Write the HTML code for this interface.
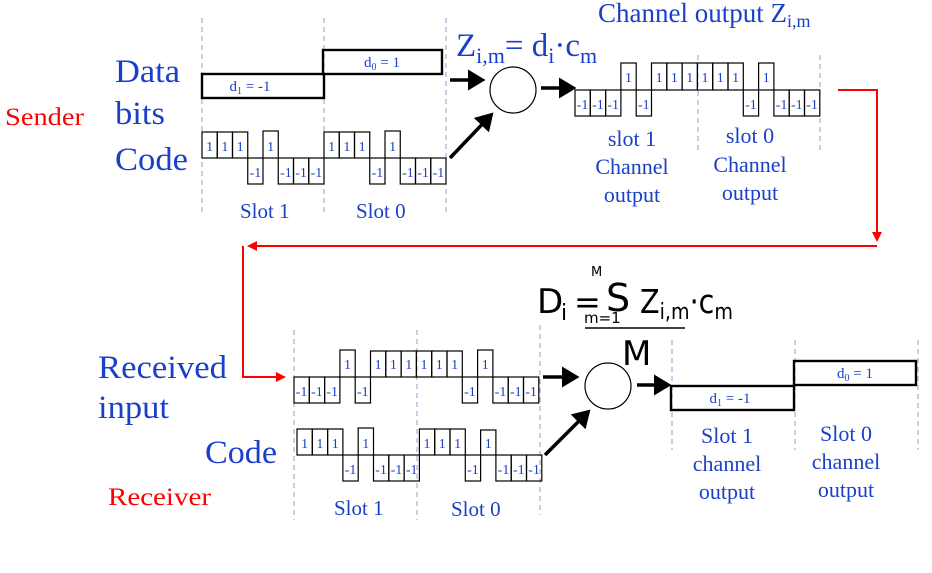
<!DOCTYPE html>
<html><head><meta charset="utf-8"><style>
html,body{margin:0;padding:0;background:#fff}
svg{display:block}
.b{fill:#1a3fc8;font-family:"Liberation Serif",serif}
.c{font-size:14px;text-anchor:middle;fill:#1a3fc8;font-family:"Liberation Serif",serif}
.dl{font-size:15px}
.r{fill:none;stroke:#000;stroke-width:1.2}
.r2{fill:none;stroke:#000;stroke-width:2.4}
.d{stroke:#9a9ac8;stroke-width:1;stroke-dasharray:5,4}
.s{fill:#000;font-family:"DejaVu Sans",sans-serif}
</style></head><body>
<svg width="932" height="573" viewBox="0 0 932 573">
<defs>
<marker id="ak" markerWidth="6" markerHeight="6" refX="4" refY="3" orient="auto" markerUnits="strokeWidth"><path d="M0,0 L5,3 L0,6 z" fill="#000"/></marker>
<marker id="ar" markerWidth="5" markerHeight="5" refX="4" refY="2.5" orient="auto" markerUnits="strokeWidth"><path d="M0,0 L5,2.5 L0,5 z" fill="red"/></marker>
</defs>
<line class="d" x1="202" y1="18" x2="202" y2="215"/><line class="d" x1="324" y1="18" x2="324" y2="215"/><line class="d" x1="446" y1="18" x2="446" y2="215"/>
<line class="d" x1="698" y1="55" x2="698" y2="150"/><line class="d" x1="820" y1="55" x2="820" y2="150"/>
<line class="d" x1="294" y1="330" x2="294" y2="520"/><line class="d" x1="417" y1="330" x2="417" y2="520"/><line class="d" x1="540" y1="325" x2="540" y2="515"/>
<line class="d" x1="672" y1="340" x2="672" y2="450"/><line class="d" x1="795" y1="340" x2="795" y2="450"/><line class="d" x1="918" y1="340" x2="918" y2="450"/>

<text x="5" y="125" textLength="79" lengthAdjust="spacingAndGlyphs" style="font-size:25px;fill:red;font-family:'Liberation Serif',serif">Sender</text>
<text class="b" x="115" y="82" font-size="33" textLength="65" lengthAdjust="spacingAndGlyphs">Data</text>
<text class="b" x="115" y="124" font-size="33" textLength="50" lengthAdjust="spacingAndGlyphs">bits</text>
<text class="b" x="115" y="170" font-size="33" textLength="73" lengthAdjust="spacingAndGlyphs">Code</text>

<rect class="r2" x="202" y="74" width="122" height="24"/>
<text class="c dl" x="250" y="91">d<tspan font-size="10" dy="3">1</tspan><tspan dy="-3"> = -1</tspan></text>
<rect class="r2" x="323" y="50" width="119" height="24"/>
<text class="c dl" x="382" y="67">d<tspan font-size="10" dy="3">0</tspan><tspan dy="-3"> = 1</tspan></text>

<g>
<rect class="r" x="202" y="132" width="15.25" height="26"/><text class="c" x="209.6" y="151">1</text>
<rect class="r" x="217.25" y="132" width="15.25" height="26"/><text class="c" x="224.9" y="151">1</text>
<rect class="r" x="232.5" y="132" width="15.25" height="26"/><text class="c" x="240.1" y="151">1</text>
<rect class="r" x="247.75" y="158" width="15.25" height="26"/><text class="c" x="255.4" y="177">-1</text>
<rect class="r" x="263" y="131" width="15.25" height="27"/><text class="c" x="270.6" y="151">1</text>
<rect class="r" x="278.25" y="158" width="15.25" height="26"/><text class="c" x="285.9" y="177">-1</text>
<rect class="r" x="293.5" y="158" width="15.25" height="26"/><text class="c" x="301.1" y="177">-1</text>
<rect class="r" x="308.75" y="158" width="15.25" height="26"/><text class="c" x="316.4" y="177">-1</text>
<rect class="r" x="324" y="132" width="15.25" height="26"/><text class="c" x="331.6" y="151">1</text>
<rect class="r" x="339.25" y="132" width="15.25" height="26"/><text class="c" x="346.9" y="151">1</text>
<rect class="r" x="354.5" y="132" width="15.25" height="26"/><text class="c" x="362.1" y="151">1</text>
<rect class="r" x="369.75" y="158" width="15.25" height="26"/><text class="c" x="377.4" y="177">-1</text>
<rect class="r" x="385" y="131" width="15.25" height="27"/><text class="c" x="392.6" y="151">1</text>
<rect class="r" x="400.25" y="158" width="15.25" height="26"/><text class="c" x="407.9" y="177">-1</text>
<rect class="r" x="415.5" y="158" width="15.25" height="26"/><text class="c" x="423.1" y="177">-1</text>
<rect class="r" x="430.75" y="158" width="15.25" height="26"/><text class="c" x="438.4" y="177">-1</text>
</g>
<text class="b" x="240" y="218" font-size="21">Slot 1</text>
<text class="b" x="356" y="218" font-size="21">Slot 0</text>

<text class="b" x="456" y="56" font-size="33">Z<tspan font-size="22" dy="7">i,m</tspan><tspan dy="-7">= d</tspan><tspan font-size="22" dy="7">i</tspan><tspan dy="-7">·c</tspan><tspan font-size="22" dy="7">m</tspan></text>
<circle cx="513" cy="90" r="23" fill="none" stroke="#000" stroke-width="1.2"/>
<line x1="450" y1="80" x2="482" y2="80" stroke="#000" stroke-width="3.5" marker-end="url(#ak)"/>
<line x1="450" y1="158" x2="491" y2="115" stroke="#000" stroke-width="3.5" marker-end="url(#ak)"/>
<line x1="541" y1="88" x2="573" y2="88" stroke="#000" stroke-width="3.5" marker-end="url(#ak)"/>

<text class="b" x="598" y="22" font-size="27">Channel output Z<tspan font-size="18" dy="5">i,m</tspan></text>
<g>
<rect class="r" x="575" y="90" width="15.3" height="26"/><text class="c" x="582.6" y="109">-1</text>
<rect class="r" x="590.3" y="90" width="15.3" height="26"/><text class="c" x="597.9" y="109">-1</text>
<rect class="r" x="605.6" y="90" width="15.3" height="26"/><text class="c" x="613.2" y="109">-1</text>
<rect class="r" x="620.9" y="63" width="15.3" height="27"/><text class="c" x="628.5" y="82">1</text>
<rect class="r" x="636.2" y="90" width="15.3" height="26"/><text class="c" x="643.8" y="109">-1</text>
<rect class="r" x="651.5" y="63" width="15.3" height="27"/><text class="c" x="659.1" y="82">1</text>
<rect class="r" x="666.8" y="63" width="15.3" height="27"/><text class="c" x="674.4" y="82">1</text>
<rect class="r" x="682.1" y="63" width="15.3" height="27"/><text class="c" x="689.7" y="82">1</text>
<rect class="r" x="697.4" y="63" width="15.3" height="27"/><text class="c" x="705" y="82">1</text>
<rect class="r" x="712.7" y="63" width="15.3" height="27"/><text class="c" x="720.3" y="82">1</text>
<rect class="r" x="728" y="63" width="15.3" height="27"/><text class="c" x="735.6" y="82">1</text>
<rect class="r" x="743.3" y="90" width="15.3" height="26"/><text class="c" x="750.9" y="109">-1</text>
<rect class="r" x="758.6" y="63" width="15.3" height="27"/><text class="c" x="766.2" y="82">1</text>
<rect class="r" x="773.9" y="90" width="15.3" height="26"/><text class="c" x="781.5" y="109">-1</text>
<rect class="r" x="789.2" y="90" width="15.3" height="26"/><text class="c" x="796.8" y="109">-1</text>
<rect class="r" x="804.5" y="90" width="15.3" height="26"/><text class="c" x="812.1" y="109">-1</text>
</g>
<g class="b" font-size="22" text-anchor="middle">
<text x="632" y="146">slot 1</text><text x="632" y="174">Channel</text><text x="632" y="202">output</text>
<text x="750" y="143">slot 0</text><text x="750" y="172">Channel</text><text x="750" y="200">output</text>
</g>

<polyline points="838,90 877,90 877,240" fill="none" stroke="red" stroke-width="2" marker-end="url(#ar)"/>
<line x1="877" y1="246" x2="249" y2="246" stroke="red" stroke-width="2" marker-end="url(#ar)"/>
<polyline points="243,246 243,377 284,377" fill="none" stroke="red" stroke-width="2" marker-end="url(#ar)"/>

<text class="b" x="98" y="378" font-size="33" textLength="129" lengthAdjust="spacingAndGlyphs">Received</text>
<text class="b" x="98" y="418" font-size="33" textLength="71" lengthAdjust="spacingAndGlyphs">input</text>
<text class="b" x="205" y="463" font-size="33" textLength="72" lengthAdjust="spacingAndGlyphs">Code</text>
<text x="108" y="505" textLength="103" lengthAdjust="spacingAndGlyphs" style="font-size:25px;fill:red;font-family:'Liberation Serif',serif">Receiver</text>

<g>
<rect class="r" x="294" y="377" width="15.3" height="26"/><text class="c" x="301.6" y="396">-1</text>
<rect class="r" x="309.3" y="377" width="15.3" height="26"/><text class="c" x="316.9" y="396">-1</text>
<rect class="r" x="324.6" y="377" width="15.3" height="26"/><text class="c" x="332.2" y="396">-1</text>
<rect class="r" x="339.9" y="350" width="15.3" height="27"/><text class="c" x="347.5" y="369">1</text>
<rect class="r" x="355.2" y="377" width="15.3" height="26"/><text class="c" x="362.8" y="396">-1</text>
<rect class="r" x="370.5" y="351" width="15.3" height="26"/><text class="c" x="378.1" y="369">1</text>
<rect class="r" x="385.8" y="351" width="15.3" height="26"/><text class="c" x="393.4" y="369">1</text>
<rect class="r" x="401.1" y="351" width="15.3" height="26"/><text class="c" x="408.7" y="369">1</text>
<rect class="r" x="416.4" y="351" width="15.3" height="26"/><text class="c" x="424" y="369">1</text>
<rect class="r" x="431.7" y="351" width="15.3" height="26"/><text class="c" x="439.3" y="369">1</text>
<rect class="r" x="447" y="351" width="15.3" height="26"/><text class="c" x="454.6" y="369">1</text>
<rect class="r" x="462.3" y="377" width="15.3" height="26"/><text class="c" x="469.9" y="396">-1</text>
<rect class="r" x="477.6" y="350" width="15.3" height="27"/><text class="c" x="485.2" y="369">1</text>
<rect class="r" x="492.9" y="377" width="15.3" height="26"/><text class="c" x="500.5" y="396">-1</text>
<rect class="r" x="508.2" y="377" width="15.3" height="26"/><text class="c" x="515.8" y="396">-1</text>
<rect class="r" x="523.5" y="377" width="15.3" height="26"/><text class="c" x="531.1" y="396">-1</text>
</g>
<g>
<rect class="r" x="297" y="429" width="15.3" height="26"/><text class="c" x="304.6" y="448">1</text>
<rect class="r" x="312.3" y="429" width="15.3" height="26"/><text class="c" x="319.9" y="448">1</text>
<rect class="r" x="327.6" y="429" width="15.3" height="26"/><text class="c" x="335.2" y="448">1</text>
<rect class="r" x="342.9" y="455" width="15.3" height="26"/><text class="c" x="350.5" y="474">-1</text>
<rect class="r" x="358.2" y="428" width="15.3" height="27"/><text class="c" x="365.8" y="448">1</text>
<rect class="r" x="373.5" y="455" width="15.3" height="26"/><text class="c" x="381.1" y="474">-1</text>
<rect class="r" x="388.8" y="455" width="15.3" height="26"/><text class="c" x="396.4" y="474">-1</text>
<rect class="r" x="404.1" y="455" width="15.3" height="26"/><text class="c" x="411.7" y="474">-1</text>
<rect class="r" x="419.4" y="429" width="15.3" height="26"/><text class="c" x="427" y="448">1</text>
<rect class="r" x="434.7" y="429" width="15.3" height="26"/><text class="c" x="442.3" y="448">1</text>
<rect class="r" x="450" y="429" width="15.3" height="26"/><text class="c" x="457.6" y="448">1</text>
<rect class="r" x="465.3" y="455" width="15.3" height="26"/><text class="c" x="472.9" y="474">-1</text>
<rect class="r" x="480.6" y="430" width="15.3" height="25"/><text class="c" x="488.2" y="448">1</text>
<rect class="r" x="495.9" y="455" width="15.3" height="26"/><text class="c" x="503.5" y="474">-1</text>
<rect class="r" x="511.2" y="455" width="15.3" height="26"/><text class="c" x="518.8" y="474">-1</text>
<rect class="r" x="526.5" y="455" width="15.3" height="26"/><text class="c" x="534.1" y="474">-1</text>
</g>
<text class="b" x="334" y="515" font-size="21">Slot 1</text>
<text class="b" x="451" y="516" font-size="21">Slot 0</text>

<text class="s" x="537" y="313" font-size="34">D</text>
<text class="s" x="561" y="320" font-size="22">i</text>
<text class="s" x="574" y="313" font-size="32">=</text>
<text class="s" x="591" y="276" font-size="13">M</text>
<text class="s" x="606" y="311" font-size="38">S</text>
<text class="s" x="584" y="323" font-size="15">m=1</text>
<text class="s" x="640" y="313" font-size="33" textLength="93" lengthAdjust="spacingAndGlyphs">Z<tspan font-size="22" dy="6">i,m</tspan><tspan dy="-6">·c</tspan><tspan font-size="22" dy="6">m</tspan></text>
<line x1="585" y1="328" x2="685" y2="328" stroke="#000" stroke-width="1.5"/>
<text class="s" x="622" y="365" font-size="34">M</text>

<circle cx="608" cy="386" r="23" fill="none" stroke="#000" stroke-width="1.2"/>
<line x1="543" y1="377" x2="576" y2="377" stroke="#000" stroke-width="3.5" marker-end="url(#ak)"/>
<line x1="545" y1="455" x2="588" y2="412" stroke="#000" stroke-width="3.5" marker-end="url(#ak)"/>
<line x1="637" y1="385" x2="668" y2="385" stroke="#000" stroke-width="3.5" marker-end="url(#ak)"/>

<rect class="r2" x="671" y="386" width="123" height="24"/>
<text class="c dl" x="730" y="403">d<tspan font-size="10" dy="3">1</tspan><tspan dy="-3"> = -1</tspan></text>
<rect class="r2" x="794" y="361" width="122" height="24"/>
<text class="c dl" x="855" y="378">d<tspan font-size="10" dy="3">0</tspan><tspan dy="-3"> = 1</tspan></text>
<g class="b" font-size="22" text-anchor="middle">
<text x="727" y="443">Slot 1</text><text x="727" y="471">channel</text><text x="727" y="499">output</text>
<text x="846" y="441">Slot 0</text><text x="846" y="469">channel</text><text x="846" y="497">output</text>
</g>
</svg>
</body></html>
